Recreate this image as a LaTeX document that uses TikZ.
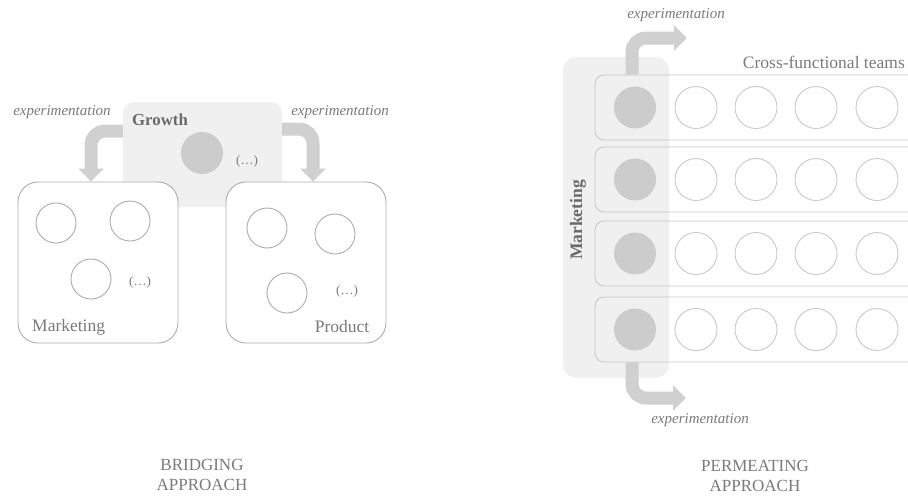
\documentclass[tikz,border=0pt]{standalone}
\usepackage{fontspec}
\setmainfont{Liberation Serif}
\usetikzlibrary{arrows.meta}
\definecolor{txtgray}{HTML}{7A7A7A}
\definecolor{darkgray}{HTML}{6A6A6A}
\definecolor{boxline}{HTML}{ABABAB}
\definecolor{rowline}{HTML}{C8C8C8}
\definecolor{lightfill}{HTML}{F0F0F0}
\definecolor{dotfill}{HTML}{CCCCCC}
\definecolor{flowgray}{HTML}{D0D0D0}
\tikzset{
  lbl/.style={text=txtgray, inner sep=0pt, font=\fontsize{17.5}{20}\selectfont},
  expl/.style={text=txtgray, inner sep=0pt, font=\fontsize{15}{18}\selectfont\itshape},
  dots/.style={text=txtgray, inner sep=0pt, font=\fontsize{13}{15}\selectfont},
  title/.style={text=txtgray, inner sep=0pt, align=center, font=\fontsize{17}{20.5}\selectfont},
  unitbox/.style={draw=boxline, line width=0.9pt, fill=white, rounded corners=20pt,
    minimum width=160pt, minimum height=161pt, inner sep=0pt},
  hub/.style={fill=lightfill, rounded corners=11pt, inner sep=0pt},
  team/.style={circle, draw=boxline, line width=0.9pt, minimum size=40pt, inner sep=0pt},
  rowteam/.style={circle, draw=rowline, line width=0.9pt, minimum size=42pt, inner sep=0pt},
  member/.style={circle, fill=dotfill, minimum size=42pt, inner sep=0pt},
  rowbox/.style={draw=rowline, line width=0.9pt, rounded corners=9pt,
    minimum width=340pt, minimum height=65pt, inner sep=0pt},
  flow/.style={draw=flowgray, line width=13pt, rounded corners=14pt,
    -{Triangle[width=25pt,length=13pt]}},
}
\begin{document}
\begin{tikzpicture}[x=1pt,y=-1pt]
\useasboundingbox (0,0) rectangle (908,498);
\clip (0,0) rectangle (908,498);

% ---------- bridging approach ----------
\node[hub, minimum width=159pt, minimum height=105pt] (gb) at (202.5,154.5) {};
\node[text=darkgray, inner sep=0pt, font=\fontsize{16.8}{20}\selectfont\bfseries] (gt) at (160,120) {Growth};
\node[member] (gm) at (202,153) {};
\node[dots] (gd) at (247,161) {(…)};

\node[unitbox] (mk) at (98,262.5) {};
\node[unitbox] (pr) at (306,262.5) {};

\node[team] (m1) at (56,223) {};
\node[team] (m2) at (130,221) {};
\node[team] (m3) at (91,279) {};
\node[dots] (md) at (140,282) {(…)};
\node[lbl, anchor=west] (ml) at (32,327) {Marketing};

\node[team] (p1) at (267,228) {};
\node[team] (p2) at (335,234) {};
\node[team] (p3) at (287,293) {};
\node[dots] (pd) at (347,291) {(…)};
\node[lbl] (pl) at (342,327) {Product};

\draw[flow] ([yshift=23.5pt]gb.west) -| ([xshift=-7pt]mk.north);
\draw[flow] ([yshift=25.5pt]gb.east) -| ([xshift=7pt]pr.north);
\node[expl] (el) at (62,112) {experimentation};
\node[expl] (er) at (340,112) {experimentation};

\node[title] (bt) at (202,475) {BRIDGING\\APPROACH};

% ---------- permeating approach ----------
\node[hub, rounded corners=13pt, minimum width=106pt, minimum height=321pt] (col) at (616,217.5) {};
\node[text=darkgray, inner sep=0pt, rotate=90, font=\fontsize{17.5}{20}\selectfont\bfseries] (cl) at (578,220) {Marketing};

\foreach \r/\y in {1/107.5, 2/179.5, 3/253.5, 4/329.5}{
  \node[rowbox] (r\r) at (765,\y) {};
  \node[member] (f\r) at (635,\y) {};
  \foreach \c/\x in {1/696, 2/756, 3/816, 4/877}{
    \node[rowteam] (t\r\c) at (\x,\y) {};
  }
}
\node[lbl, anchor=east] (cft) at (905,62) {Cross-functional teams};

\coordinate (upend) at (687,38);
\coordinate (downend) at (686,398);
\draw[flow] ([xshift=-3pt]r1.north -| f1.center) |- (upend);
\draw[flow] ([xshift=-3pt]r4.south -| f4.center) |- (downend);
\node[expl] (et) at (676,15) {experimentation};
\node[expl] (eb) at (700,420) {experimentation};

\node[title] (pt) at (755,476) {PERMEATING\\APPROACH};
\end{tikzpicture}
\end{document}
